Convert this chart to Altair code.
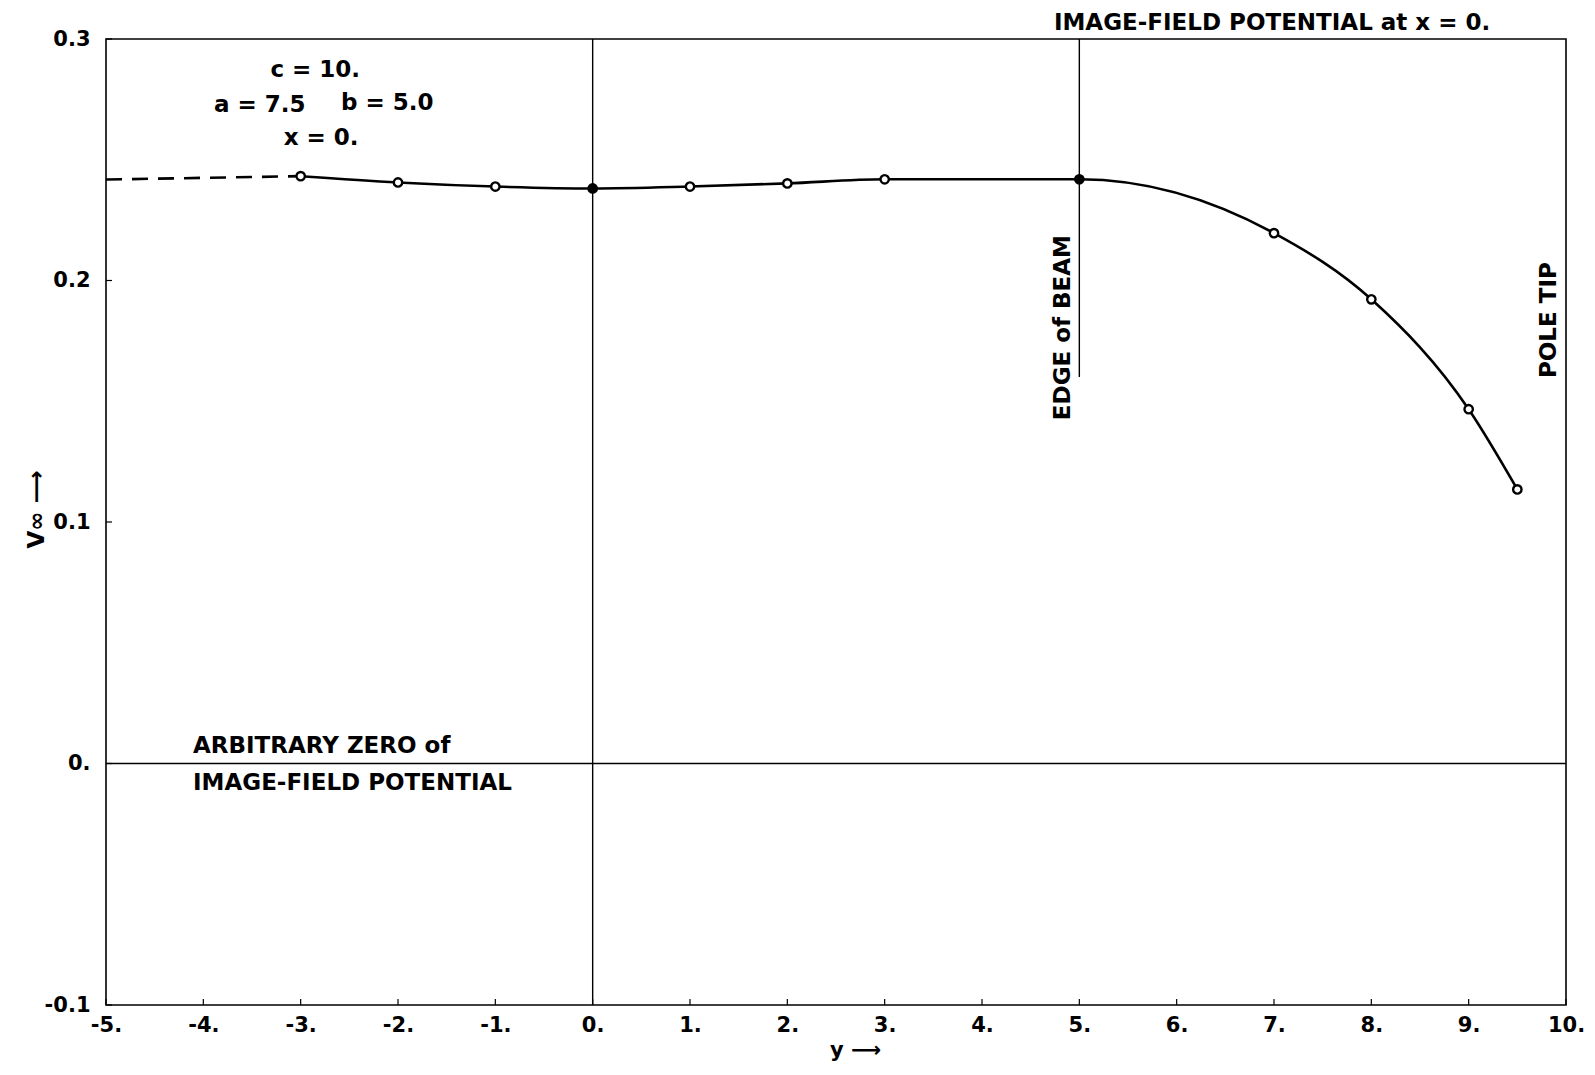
import altair as alt
import pandas as pd

# ---- data ----
y_pos = [-3, -2, -1, 0, 1, 2, 3, 5, 7, 8, 9, 9.5]
v_inf = [0.2432, 0.2406, 0.2389, 0.2381, 0.2389, 0.2402, 0.2419, 0.2419, 0.2196, 0.1922, 0.1467, 0.1135]
filled = [False, False, False, True, False, False, False, True, False, False, False, False]

dash_y = [-5, -3]
dash_v = [0.2418, 0.2432]

x_ticks = list(range(-5, 11))
y_ticks = [-0.1, 0.0, 0.1, 0.2, 0.3]

rule_x = [0, 5]
rule_lo = [-0.1, 0.16]
rule_hi = [0.3, 0.3]

params_text = ["c = 10.", "a = 7.5", "b = 5.0", "x = 0."]
params_x = [-2.85, -3.42, -2.11, -2.79]
params_y = [0.2872, 0.2727, 0.2735, 0.2590]

zero_text = ["ARBITRARY ZERO of", "IMAGE-FIELD POTENTIAL"]
zero_x = [-4.106, -4.106]
zero_y = [0.0073, -0.0080]

rot_text = ["EDGE of BEAM", "POLE TIP"]
rot_x = [4.83, 9.83]
rot_y = [0.1805, 0.1836]

head_text = ["IMAGE-FIELD POTENTIAL at x = 0."]
head_x = [6.98]
head_y = [0.3039]

W, H = 1460, 966
FONT = "DejaVu Sans, Liberation Sans"

xs = alt.Scale(domain=[-5, 10], nice=False, zero=False)
ys = alt.Scale(domain=[-0.1, 0.3], nice=False, zero=False)

pts = pd.DataFrame({"y": y_pos, "v": v_inf, "filled": filled})
dash = pd.DataFrame({"y": dash_y, "v": dash_v})

x_axis = alt.Axis(
    values=x_ticks, ticks=False, domain=False, grid=False, labelFlush=False,
    labelExpr="toString(datum.value) + '.'",
    labelPadding=9, title="y ⟶", titleX=749, titleY=34, titleFontSize=21,
)
y_axis = alt.Axis(
    values=y_ticks, ticks=False, domain=False, grid=False, labelFlush=False,
    labelExpr="datum.value == 0 ? '0.' : toString(round(datum.value*10)/10)",
    labelPadding=16, title="V∞ ⟶", titleX=-58, titleY=470, titleAngle=270,
)

curve = alt.Chart(pts).mark_line(
    interpolate="monotone", color="black", strokeWidth=2.6
).encode(
    x=alt.X("y:Q", scale=xs, axis=x_axis),
    y=alt.Y("v:Q", scale=ys, axis=y_axis),
)

dashed = alt.Chart(dash).mark_line(
    color="black", strokeWidth=2.6, strokeDash=[16, 10]
).encode(x=alt.X("y:Q", scale=xs), y=alt.Y("v:Q", scale=ys))

points = alt.Chart(pts).mark_point(
    shape="circle", size=70, strokeWidth=2.4, opacity=1
).encode(
    x=alt.X("y:Q", scale=xs),
    y=alt.Y("v:Q", scale=ys),
    fill=alt.condition("datum.filled", alt.value("black"), alt.value("white")),
    stroke=alt.value("black"),
)

vrules = alt.Chart(pd.DataFrame({"x": rule_x, "lo": rule_lo, "hi": rule_hi})).mark_rule(
    color="black", strokeWidth=1.4
).encode(x=alt.X("x:Q", scale=xs), y=alt.Y("lo:Q", scale=ys), y2="hi:Q")

hrule = alt.Chart(pd.DataFrame({"v": [0.0]})).mark_rule(
    color="black", strokeWidth=1.4
).encode(y=alt.Y("v:Q", scale=ys))

xt = alt.Chart(pd.DataFrame({"t": x_ticks})).mark_rule(color="black", strokeWidth=1.2).encode(
    x=alt.X("t:Q", scale=xs), y=alt.value(H), y2=alt.value(H - 6)
)
yt = alt.Chart(pd.DataFrame({"t": y_ticks})).mark_rule(color="black", strokeWidth=1.2).encode(
    y=alt.Y("t:Q", scale=ys), x=alt.value(0), x2=alt.value(6)
)

tstyle = dict(font=FONT, fontSize=23, fontWeight="bold", color="black")

params = alt.Chart(pd.DataFrame({"x": params_x, "y": params_y, "t": params_text})).mark_text(
    align="center", baseline="middle", **tstyle
).encode(x=alt.X("x:Q", scale=xs), y=alt.Y("y:Q", scale=ys), text="t:N")

zero_lbl = alt.Chart(pd.DataFrame({"x": zero_x, "y": zero_y, "t": zero_text})).mark_text(
    align="left", baseline="middle", **tstyle
).encode(x=alt.X("x:Q", scale=xs), y=alt.Y("y:Q", scale=ys), text="t:N")

rot_lbl = alt.Chart(pd.DataFrame({"x": rot_x, "y": rot_y, "t": rot_text})).mark_text(
    align="center", baseline="middle", angle=270, **tstyle
).encode(x=alt.X("x:Q", scale=xs), y=alt.Y("y:Q", scale=ys), text="t:N")

head = alt.Chart(pd.DataFrame({"x": head_x, "y": head_y, "t": head_text})).mark_text(
    align="center", baseline="alphabetic", **tstyle
).encode(x=alt.X("x:Q", scale=xs), y=alt.Y("y:Q", scale=ys), text="t:N")

chart = alt.layer(
    hrule, vrules, dashed, curve, points, xt, yt, params, zero_lbl, rot_lbl, head
).properties(
    width=W, height=H,
    background="white",
    autosize=alt.AutoSizeParams(type="none"),
    padding={"left": 98, "top": 31, "right": 20, "bottom": 62},
).configure_view(
    stroke="black", strokeWidth=1.6
).configure_axis(
    labelFont=FONT, labelFontSize=21, labelFontWeight="bold", labelColor="black",
    titleFont=FONT, titleFontSize=23, titleFontWeight="bold", titleColor="black",
)

chart.save("out.html", embed_options={"renderer": "svg", "actions": False})
